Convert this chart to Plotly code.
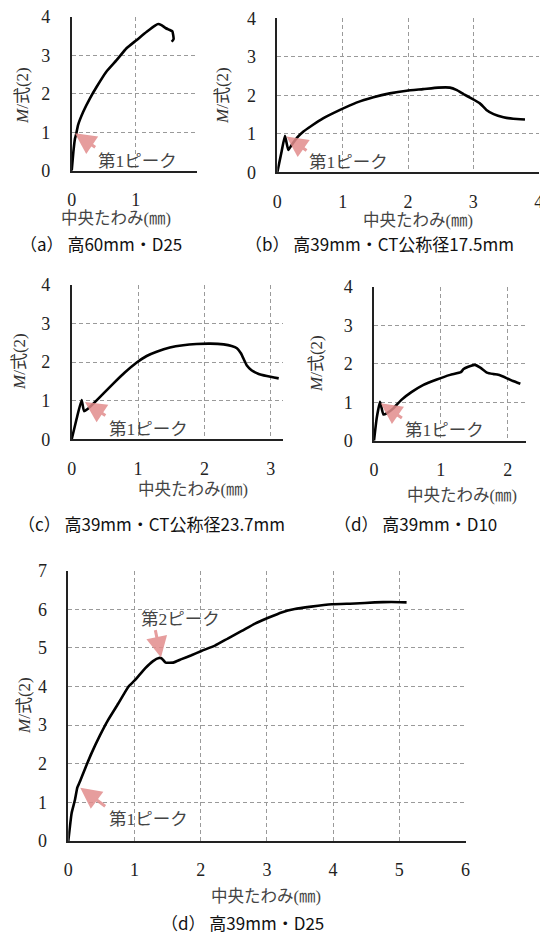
import plotly.graph_objects as go

# ---------------- data ----------------
a_x = [0, 0.026, 0.052, 0.067, 0.10, 0.18, 0.285, 0.39, 0.54, 0.70, 0.855, 1.01, 1.17, 1.30, 1.35, 1.40, 1.47, 1.52, 1.57, 1.59, 1.56]
a_y = [0, 0.49, 0.84, 0.93, 1.19, 1.53, 1.88, 2.18, 2.57, 2.87, 3.18, 3.39, 3.61, 3.77, 3.81, 3.78, 3.70, 3.66, 3.62, 3.42, 3.35]

b_x = [0, 0.066, 0.117, 0.168, 0.22, 0.32, 0.40, 0.525, 0.70, 0.96, 1.21, 1.47, 1.72, 1.98, 2.23, 2.46, 2.64, 2.74, 2.85, 2.97, 3.10, 3.20, 3.31, 3.46, 3.61, 3.79]
b_y = [0, 0.54, 0.95, 0.58, 0.71, 0.93, 1.06, 1.21, 1.40, 1.62, 1.81, 1.95, 2.05, 2.12, 2.16, 2.20, 2.20, 2.14, 2.03, 1.92, 1.79, 1.62, 1.51, 1.43, 1.39, 1.37]

c_x = [0, 0.075, 0.15, 0.186, 0.25, 0.33, 0.48, 0.63, 0.80, 0.98, 1.13, 1.28, 1.48, 1.68, 1.88, 2.09, 2.29, 2.41, 2.49, 2.55, 2.60, 2.64, 2.71, 2.81, 2.94, 3.12]
c_y = [0, 0.54, 1.02, 0.73, 0.80, 0.93, 1.19, 1.45, 1.73, 1.99, 2.16, 2.27, 2.38, 2.44, 2.47, 2.48, 2.46, 2.42, 2.36, 2.23, 2.05, 1.91, 1.79, 1.70, 1.64, 1.58]

d_x = [0, 0.04, 0.09, 0.14, 0.19, 0.29, 0.41, 0.56, 0.74, 0.94, 1.14, 1.30, 1.34, 1.41, 1.51, 1.59, 1.69, 1.79, 1.86, 1.99, 2.08, 2.19]
d_y = [0, 0.58, 1.01, 0.68, 0.71, 0.84, 1.06, 1.26, 1.45, 1.59, 1.71, 1.78, 1.86, 1.92, 1.97, 1.90, 1.77, 1.73, 1.71, 1.62, 1.55, 1.48]

e_x = [0, 0.05, 0.10, 0.136, 0.176, 0.25, 0.35, 0.48, 0.60, 0.755, 0.905, 1.01, 1.16, 1.28, 1.37, 1.41, 1.47, 1.585, 1.71, 1.86, 2.01, 2.215, 2.415, 2.62, 2.82, 3.02, 3.22, 3.42, 3.67, 3.98, 4.33, 4.63, 4.88, 5.11]
e_y = [0, 0.72, 1.06, 1.38, 1.54, 1.86, 2.27, 2.74, 3.13, 3.56, 3.99, 4.17, 4.47, 4.66, 4.74, 4.73, 4.62, 4.62, 4.71, 4.81, 4.92, 5.06, 5.25, 5.44, 5.63, 5.78, 5.92, 6.01, 6.07, 6.13, 6.15, 6.18, 6.19, 6.18]

captions = ["（a） 高60mm・D25", "（b） 高39mm・CT公称径17.5mm", "（c） 高39mm・CT公称径23.7mm", "（d） 高39mm・D10", "（d） 高39mm・D25"]
x_title = "中央たわみ(㎜)"
y_title = "<i>M</i>/式(2)"
peak1 = "第1ピーク"
peak2 = "第2ピーク"

# ---------------- layout helpers ----------------
# the page body has an 8px margin, so the figure starts at (8, 8) in the window
OFF = 8
W, H = 548 - OFF, 934 - OFF
def fx(p):
    return (p - OFF) / W
def fy(p):
    return 1 - (p - OFF) / H

SERIF = "Liberation Serif, Times New Roman, Noto Sans CJK JP, serif"
SANS = "Noto Sans CJK JP, sans-serif"

# panel boxes in window pixels: (left, right, top, bottom), x range, y range
panels = [
    dict(box=(71.7, 196.7, 16.7, 170.7), xr=[0, 1.95], yr=[0, 4], xt=[0, 1], yt=[0, 1, 2, 3, 4], xs=a_x, ys=a_y),
    dict(box=(277.3, 538.7, 18.3, 172.3), xr=[0, 4], yr=[0, 4], xt=[0, 1, 2, 3, 4], yt=[0, 1, 2, 3, 4], xs=b_x, ys=b_y),
    dict(box=(71.7, 282.7, 285.0, 439.3), xr=[0, 3.18], yr=[0, 4], xt=[0, 1, 2, 3], yt=[0, 1, 2, 3, 4], xs=c_x, ys=c_y),
    dict(box=(374.0, 525.7, 286.7, 440.7), xr=[0, 2.27], yr=[0, 4], xt=[0, 1, 2], yt=[0, 1, 2, 3, 4], xs=d_x, ys=d_y),
    dict(box=(68.3, 465.5, 570.7, 841.0), xr=[0, 6], yr=[0, 7], xt=[0, 1, 2, 3, 4, 5, 6], yt=[0, 1, 2, 3, 4, 5, 6, 7], xs=e_x, ys=e_y),
]

fig = go.Figure()
layout = dict(
    width=W, height=H, margin=dict(l=0, r=0, t=0, b=0, pad=0, autoexpand=False),
    paper_bgcolor="white", plot_bgcolor="white", showlegend=False,
)

for i, p in enumerate(panels):
    n = "" if i == 0 else str(i + 1)
    l, r, t, b = p["box"]
    common = dict(
        showgrid=True, gridcolor="#9a9a9a", gridwidth=1, griddash="4px,3px",
        showline=True, linecolor="#222", linewidth=1.5, zeroline=False,
        tickcolor="rgba(0,0,0,0)", automargin=False, ticklabeloverflow="allow",
        tickfont=dict(family=SERIF, size=18, color="#222"), fixedrange=True, ticks="outside",
    )
    layout["xaxis" + n] = dict(domain=[fx(l), fx(r)], anchor="y" + n, range=p["xr"],
                               tickvals=p["xt"], ticklen=12, **common)
    layout["yaxis" + n] = dict(domain=[fy(b), fy(t)], anchor="x" + n, range=p["yr"],
                               tickvals=p["yt"], ticklen=16, **common)
    fig.add_trace(go.Scatter(
        x=p["xs"], y=p["ys"], mode="lines", xaxis="x" + n, yaxis="y" + n,
        line=dict(color="black", width=2.6, shape="spline", smoothing=0.4),
        hoverinfo="skip",
    ))

fig.update_layout(**layout)

ann = []
# axis titles and captions (window pixel positions)
ytitle_pos = [(22, 96), (222, 96), (20, 362), (316, 364), (24, 706)]
xtitle_pos = [(116, 219), (418, 220), (193, 490), (462, 495), (266, 896)]
cap_pos = [(101, 243), (379, 243), (151, 523), (415, 523), (242, 922)]
for (yx, yy), (xx, xy), (cx, cy), cap in zip(ytitle_pos, xtitle_pos, cap_pos, captions):
    ann.append(dict(x=fx(yx), y=fy(yy), xref="paper", yref="paper", text=y_title, textangle=-90,
                    showarrow=False, font=dict(family=SERIF, size=17, color="#333"),
                    xanchor="center", yanchor="middle"))
    ann.append(dict(x=fx(xx), y=fy(xy), xref="paper", yref="paper", text=x_title,
                    showarrow=False, font=dict(family=SERIF, size=16.5, color="#444"),
                    xanchor="center", yanchor="middle"))
    ann.append(dict(x=fx(cx), y=fy(cy), xref="paper", yref="paper", text=cap,
                    showarrow=False, font=dict(family=SANS, size=17, color="#111"),
                    xanchor="center", yanchor="middle"))

# peak arrows: (axis suffix, tip x, tip y, tail x, tail y)
arrows = [
    ("", 0.05, 0.97, 0.39, 0.58),
    ("2", 0.14, 0.93, 0.47, 0.54),
    ("3", 0.20, 0.97, 0.53, 0.59),
    ("4", 0.10, 0.97, 0.44, 0.56),
    ("5", 0.18, 1.38, 0.58, 0.87),
    ("5", 1.40, 4.75, 1.31, 5.50),
]
for n, tx, ty, sx, sy in arrows:
    ann.append(dict(x=tx, y=ty, ax=sx, ay=sy, xref="x" + n, yref="y" + n, axref="x" + n, ayref="y" + n,
                    text="", showarrow=True, arrowhead=2, arrowsize=1.4, arrowwidth=3,
                    arrowcolor="rgba(226,140,140,0.85)"))

labels = [
    ("", 1.02, 0.26, peak1),
    ("2", 1.09, 0.28, peak1),
    ("3", 1.16, 0.28, peak1),
    ("4", 1.05, 0.28, peak1),
    ("5", 1.21, 0.57, peak1),
    ("5", 1.69, 5.76, peak2),
]
for n, lx, ly, txt in labels:
    ann.append(dict(x=lx, y=ly, xref="x" + n, yref="y" + n, text=txt, showarrow=False,
                    font=dict(family=SERIF, size=17.5, color="#444"),
                    xanchor="center", yanchor="middle"))

fig.update_layout(annotations=ann)
fig.write_html("out.html")
